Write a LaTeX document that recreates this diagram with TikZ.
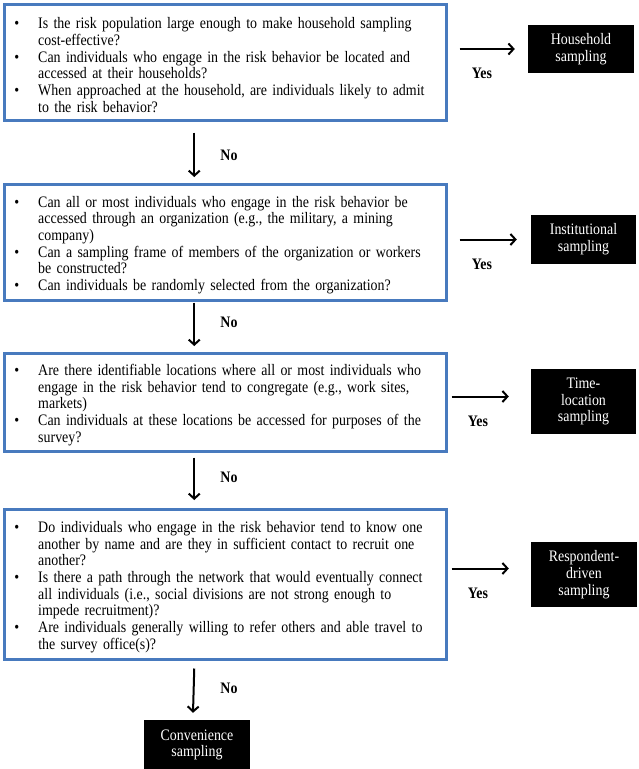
\documentclass[tikz,border=0pt]{standalone}
\usepackage{fontspec}
\setmainfont[FakeStretch=0.87]{Liberation Serif}
\usetikzlibrary{arrows.meta}
\definecolor{qblue}{RGB}{72,122,190}
\newcommand{\qitem}[1]{\par\noindent\hangindent=24pt\hangafter=1\makebox[24pt][l]{\textbullet}#1}
\tikzset{
  question/.style={draw=qblue, line width=2.5pt, anchor=north west, minimum width=442pt,
    text width=422pt, inner xsep=10pt, align=left, font=\fontsize{16}{16.7}\selectfont},
  outcome/.style={fill=black, text=white, align=center, inner sep=2pt,
    font=\fontsize{16}{16.7}\selectfont},
  flow/.style={-{Straight Barb[length=5pt,width=11pt]}, line width=2pt},
  lbl/.style={font=\fontsize{16}{16}\selectfont\bfseries}
}
\begin{document}
\begin{tikzpicture}[x=1pt,y=1pt]
	\useasboundingbox (0,0) rectangle (638,-769);
	% questions
	\node[question, minimum height=116pt] (q1) at (3,-3){
	\qitem{Is the risk population large enough to make household sampling\newline cost-effective?}
	\qitem{Can individuals who engage in the risk behavior be located and\newline accessed at their households?}
	\qitem{When approached at the household, are individuals likely to admit\newline to the risk behavior?}\par};
	\node[question, minimum height=116pt] (q2) at (3,-183){
	\qitem{Can all or most individuals who engage in the risk behavior be\newline accessed through an organization (e.g., the military, a mining\newline company)}
	\qitem{Can a sampling frame of members of the organization or workers\newline be constructed?}
	\qitem{Can individuals be randomly selected from the organization?}\par};
	\node[question, minimum height=98pt] (q3) at (3,-352){
	\qitem{Are there identifiable locations where all or most individuals who\newline engage in the risk behavior tend to congregate (e.g., work sites,\newline markets)}
	\qitem{Can individuals at these locations be accessed for purposes of the\newline survey?}\par};
	\node[question, minimum height=150pt] (q4) at (3,-508){
	\qitem{Do individuals who engage in the risk behavior tend to know one\newline another by name and are they in sufficient contact to recruit one\newline another?}
	\qitem{Is there a path through the network that would eventually connect\newline all individuals (i.e., social divisions are not strong enough to\newline impede recruitment)?}
	\qitem{Are individuals generally willing to refer others and able travel to\newline the survey office(s)?}\par};
	% outcomes
	\node[outcome, minimum width=106pt, minimum height=48pt] (hh) at (581,-49){Household\\sampling};
	\node[outcome, minimum width=105pt, minimum height=49pt] (inst) at (583.5,-239.5){Institutional\\sampling};
	\node[outcome, minimum width=105pt, minimum height=65pt] (tl) at (583.5,-401.5){Time-\\location\\sampling};
	\node[outcome, minimum width=106pt, minimum height=65pt] (rds) at (584,-574.5){Respondent-\\driven\\sampling};
	\node[outcome, minimum width=106pt, minimum height=50pt] (conv) at (197,-745){Convenience\\sampling};
	% yes
	\draw[flow]([xshift=12pt]q1.east |- hh.west)--([xshift=-13pt]hh.west);
	\draw[flow]([xshift=12pt]q2.east |- inst.west)--([xshift=-14pt]inst.west);
	\draw[flow]([xshift=4pt,yshift=5pt]q3.east |- tl.west)--([xshift=-22pt,yshift=5pt]tl.west);
	\draw[flow]([xshift=4pt,yshift=6pt]q4.east |- rds.west)--([xshift=-22pt,yshift=6pt]rds.west);
	\node[lbl] (y1) at (482,-73){Yes};
	\node[lbl] (y2) at (482,-264){Yes};
	\node[lbl] (y3) at (478,-421){Yes};
	\node[lbl] (y4) at (478,-593){Yes};
	% no
	\draw[flow]([xshift=-31pt,yshift=-11pt]q1.south)--([xshift=-31pt,yshift=6pt]q2.north);
	\draw[flow]([xshift=-31pt,yshift=-1pt]q2.south)--([xshift=-31pt,yshift=6pt]q3.north);
	\draw[flow]([xshift=-31pt,yshift=-5pt]q3.south)--([xshift=-31pt,yshift=8pt]q4.north);
	\draw[flow]([xshift=-31pt,yshift=-8pt]q4.south)--([yshift=7pt]conv.north -| q4.south -| 193,0);
	\node[lbl] (n1) at (229,-155){No};
	\node[lbl] (n2) at (229,-322){No};
	\node[lbl] (n3) at (229,-477){No};
	\node[lbl] (n4) at (229,-688){No};
\end{tikzpicture}
\end{document}
